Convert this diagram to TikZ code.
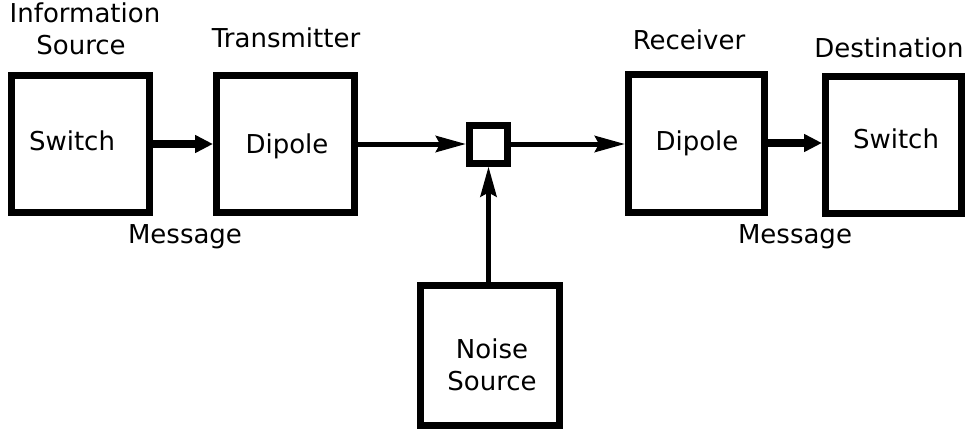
\documentclass[tikz,border=0pt]{standalone}
\usepackage{fontspec}
\setmainfont{DejaVu Sans}
\usetikzlibrary{arrows.meta}
\begin{document}
\begin{tikzpicture}[x=1pt,y=-1pt,
  blk/.style={draw=black,line width=7pt,inner sep=0pt,minimum width=138pt,minimum height=137pt},
  junc/.style={draw=black,line width=7pt,inner sep=0pt,minimum width=38pt,minimum height=38pt},
  lbl/.style={font=\fontsize{26}{30}\selectfont,anchor=base,inner sep=0pt},
  thickarr/.style={line width=8pt,-{Triangle[length=18pt,width=17pt]}},
  thinarr/.style={line width=5pt,-{Stealth[length=30pt,width=16pt,inset=4pt]}}]
\useasboundingbox[fill=white] (0,0) rectangle (968,428);
% boxes
\node[blk] (src) at (80.5,144) {};
\node[blk] (tx) at (285.5,144) {};
\node[junc] (mix) at (488.5,144) {};
\node[blk,minimum width=136pt,minimum height=138pt] (rx) at (696.5,143) {};
\node[blk,minimum width=136pt] (dst) at (893.5,145) {};
\node[blk,minimum width=139pt,minimum height=140pt] (noise) at (490,355.5) {};
% labels
\node[lbl] (l1) at (85,23) {Information};
\node[lbl] (l2) at (81,55) {Source};
\node[lbl] (l3) at (286,48) {Transmitter};
\node[lbl] (l4) at (72,150) {Switch};
\node[lbl] (l5) at (287,153) {Dipole};
\node[lbl] (l6) at (185,243) {Message};
\node[lbl] (l7) at (689,50) {Receiver};
\node[lbl] (l8) at (889,57) {Destination};
\node[lbl] (l9) at (697,150) {Dipole};
\node[lbl] (l10) at (896,148) {Switch};
\node[lbl] (l11) at (795,243) {Message};
\node[lbl] (l12) at (492,358) {Noise};
\node[lbl] (l13) at (492,390) {Source};
% connectors
\draw[thickarr] (src.east) -- (src.east -| tx.west);
\draw[thinarr] (tx.east) -- (tx.east -| mix.west);
\draw[thinarr] (mix.east) -- (mix.east -| rx.west);
\draw[thickarr,line cap=round] (rx.east) -- (rx.east -| dst.west);
\draw[thinarr] (noise.north -| mix.south) -- (mix.south);
\end{tikzpicture}
\end{document}
